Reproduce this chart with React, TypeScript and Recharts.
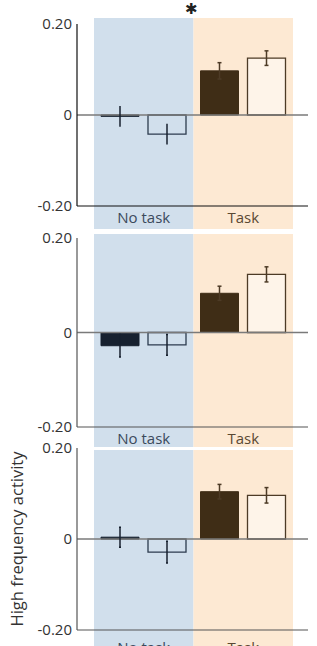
import React from 'react';
import { BarChart, Bar, XAxis, YAxis, Cell, ErrorBar, ReferenceArea, ReferenceLine } from 'recharts';

const CONDITIONS = ['No task', 'Task'];
const Y_TICKS = [-0.2, 0, 0.2];
const Y_LABEL = 'High frequency activity';

// each pair is [No task, Task]
const p1Filled = [-0.003, 0.097];
const p1FilledErr = [0.023, 0.018];
const p1Open = [-0.042, 0.125];
const p1OpenErr = [0.023, 0.016];

const p2Filled = [-0.028, 0.083];
const p2FilledErr = [0.024, 0.015];
const p2Open = [-0.026, 0.123];
const p2OpenErr = [0.022, 0.016];

const p3Filled = [0.004, 0.104];
const p3FilledErr = [0.022, 0.016];
const p3Open = [-0.029, 0.096];
const p3OpenErr = [0.024, 0.017];

const NAVY = '#17212f';
const NAVY_LINE = '#2c3b4e';
const BROWN = '#3f2d16';
const BROWN_LINE = '#4d3b26';
const BLUE_BAND = '#d1dfec';
const ORANGE_BAND = '#fde9d3';
const FONT = "'Open Sans', sans-serif";

const buildRows = (filled: number[], filledErr: number[], open: number[], openErr: number[]) =>
  CONDITIONS.map((cond, i) => ({
    cond,
    filled: filled[i],
    open: open[i],
    filledErrNoTask: i === 0 ? filledErr[i] : null,
    filledErrTask: i === 1 ? filledErr[i] : null,
    openErrNoTask: i === 0 ? openErr[i] : null,
    openErrTask: i === 1 ? openErr[i] : null,
  }));

const bandShape = (fill: string, above: number, below: number) => (props: any) => (
  <rect
    x={props.x}
    y={props.y - above}
    width={props.width}
    height={props.height + above + below}
    fill={fill}
  />
);

type PanelProps = {
  data: any[];
  top: number;
  height: number;
  marginTop: number;
  xAxisHeight: number;
  tickMargin: number;
  bandAbove: number;
  bandBelow: number;
  axisColor: string;
  navyCap: number;
  yLabel?: boolean;
};

function Panel(p: PanelProps) {
  return (
    <div style={{ position: 'absolute', left: 0, top: p.top }}>
      <BarChart
        width={317}
        height={p.height}
        data={p.data}
        margin={{ top: p.marginTop, right: 9, bottom: 0, left: 0 }}
        barSize={38}
        barGap={9}
      >
        <ReferenceArea
          x1="No task"
          x2="No task"
          ifOverflow="visible"
          shape={bandShape(BLUE_BAND, p.bandAbove, p.bandBelow)}
        />
        <ReferenceArea
          x1="Task"
          x2="Task"
          ifOverflow="visible"
          shape={bandShape(ORANGE_BAND, p.bandAbove, p.bandBelow)}
        />
        <ReferenceLine y={0} stroke="#7a7a7a" strokeWidth={1.5} />
        <XAxis
          dataKey="cond"
          height={p.xAxisHeight}
          padding={{ left: 17, right: 15 }}
          axisLine={{ stroke: p.axisColor, strokeWidth: 1.2 }}
          tickLine={false}
          tickSize={0}
          tickMargin={p.tickMargin}
          tick={(props: any) => (
            <text
              x={props.x}
              y={props.y}
              dy="0.71em"
              textAnchor="middle"
              fontSize={15}
              fontFamily={FONT}
              fill={props.payload.value === 'Task' ? '#5a4832' : '#3b4a5c'}
            >
              {props.payload.value}
            </text>
          )}
        />
        <YAxis
          width={77}
          domain={[-0.2, 0.2]}
          ticks={Y_TICKS}
          allowDataOverflow
          axisLine={{ stroke: p.axisColor, strokeWidth: 1.2 }}
          tickLine={false}
          tickSize={0}
          tickMargin={5}
          tick={{ fontSize: 15, fontFamily: FONT, fill: '#333' }}
          tickFormatter={(v: number) => (v === 0 ? '0' : v.toFixed(2))}
          label={
            p.yLabel
              ? {
                  value: Y_LABEL,
                  angle: -90,
                  position: 'insideLeft',
                  offset: 25,
                  dx: -8,
                  fill: '#333',
                  style: { textAnchor: 'middle', fontSize: 16.5, fontFamily: FONT },
                }
              : undefined
          }
        />
        <Bar dataKey="filled" isAnimationActive={false} strokeWidth={1}>
          {p.data.map((d, i) => (
            <Cell key={d.cond} fill={i === 0 ? NAVY : BROWN} stroke={i === 0 ? NAVY : BROWN} />
          ))}
          <ErrorBar dataKey="filledErrNoTask" width={p.navyCap} stroke={NAVY} strokeWidth={1.5} />
          <ErrorBar dataKey="filledErrTask" width={2} stroke={BROWN_LINE} strokeWidth={1.5} />
        </Bar>
        <Bar dataKey="open" isAnimationActive={false} strokeWidth={1.3}>
          {p.data.map((d, i) => (
            <Cell
              key={d.cond}
              fill={i === 0 ? 'none' : '#fef4e9'}
              stroke={i === 0 ? NAVY_LINE : BROWN_LINE}
            />
          ))}
          <ErrorBar dataKey="openErrNoTask" width={p.navyCap} stroke={NAVY} strokeWidth={1.5} />
          <ErrorBar dataKey="openErrTask" width={2} stroke={BROWN_LINE} strokeWidth={1.5} />
        </Bar>
      </BarChart>
    </div>
  );
}

export default function App() {
  return (
    <div
      style={{
        position: 'absolute',
        left: 0,
        top: 0,
        width: 317,
        height: 646,
        overflow: 'hidden',
        background: '#fff',
        fontFamily: FONT,
      }}
    >
      <Panel
        data={buildRows(p1Filled, p1FilledErr, p1Open, p1OpenErr)}
        top={0}
        height={231}
        marginTop={24}
        xAxisHeight={25}
        tickMargin={6}
        bandAbove={6}
        bandBelow={23}
        axisColor="#111"
        navyCap={0}
      />
      <Panel
        data={buildRows(p2Filled, p2FilledErr, p2Open, p2OpenErr)}
        top={224}
        height={225}
        marginTop={14}
        xAxisHeight={22}
        tickMargin={6}
        bandAbove={4}
        bandBelow={20}
        axisColor="#555"
        navyCap={1}
      />
      <Panel
        data={buildRows(p3Filled, p3FilledErr, p3Open, p3OpenErr)}
        top={436}
        height={210}
        marginTop={12}
        xAxisHeight={16}
        tickMargin={12}
        bandAbove={-2}
        bandBelow={16}
        axisColor="#555"
        navyCap={1}
        yLabel
      />
      <div
        style={{
          position: 'absolute',
          left: 185,
          top: 2,
          fontSize: 15,
          lineHeight: 1,
          fontFamily: "'DejaVu Sans', sans-serif",
          color: '#222',
        }}
      >
        ✱
      </div>
    </div>
  );
}
